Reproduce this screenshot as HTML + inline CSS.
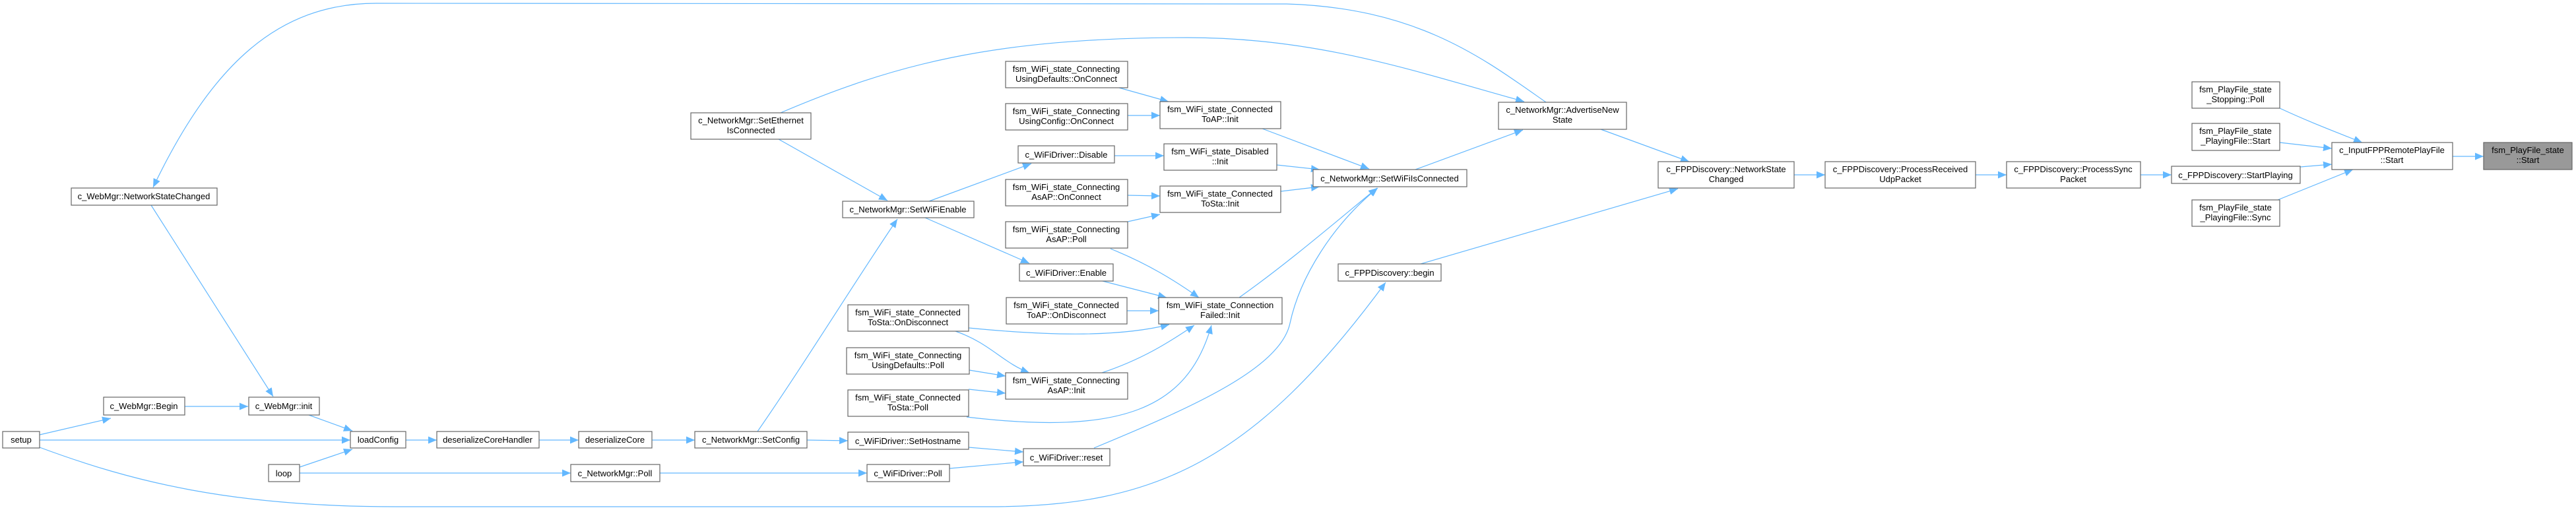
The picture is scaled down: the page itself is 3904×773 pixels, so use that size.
<!DOCTYPE html>
<html><head><meta charset="utf-8"><style>
html,body{margin:0;padding:0;background:#fff;}
svg{display:block;}
text{font-family:"Liberation Sans",Arial,sans-serif;font-size:13px;fill:#000;text-anchor:middle;}
rect{fill:#fff;stroke:#666;stroke-width:1.2;}
path.e{fill:none;stroke:#63b8ff;stroke-width:1.2;}
</style></head><body>
<svg width="3904" height="773" viewBox="0 0 3904 773" xmlns="http://www.w3.org/2000/svg">
<defs><marker id="a" markerUnits="userSpaceOnUse" markerWidth="14" markerHeight="12" refX="13" refY="5.5" orient="auto"><path d="M0,0 L13,5.5 L0,11 z" fill="#63b8ff"/></marker></defs>
<g marker-end="url(#a)">
<path class="e" d="M2343,155 C2250,90 2150,12 1950,6 L570,5 C420,5 320,100 232,284"/>
<path class="e" d="M1183,171 C1350,100 1500,57 1800,57 C2000,57 2150,110 2310,154"/>
<path class="e" d="M1180,211 L1345,304"/>
<path class="e" d="M229,311 L414,601"/>
<path class="e" d="M280,616 L376,616"/>
<path class="e" d="M468,629 L534,653"/>
<path class="e" d="M60,659 L168,634"/>
<path class="e" d="M60,667 L531,667"/>
<path class="e" d="M60,678 C200,730 350,768 600,768 L1500,768 C1750,768 1900,700 2100,428"/>
<path class="e" d="M454,708 L534,681"/>
<path class="e" d="M454,717 L865,717"/>
<path class="e" d="M615,667 L662,667"/>
<path class="e" d="M817,667 L877,667"/>
<path class="e" d="M988,667 L1053,667"/>
<path class="e" d="M1148,654 C1220,550 1300,420 1360,332"/>
<path class="e" d="M1223,667 L1285,668"/>
<path class="e" d="M1000,717 L1314,717"/>
<path class="e" d="M1468,678 L1551,685"/>
<path class="e" d="M1439,710 L1551,700"/>
<path class="e" d="M1658,679 C1800,620 1940,560 1955,490 C1970,420 2020,340 2088,285"/>
<path class="e" d="M1408,305 L1563,248"/>
<path class="e" d="M1402,330 L1560,399"/>
<path class="e" d="M1689,236 L1764,236"/>
<path class="e" d="M1696,133 L1771,154"/>
<path class="e" d="M1709,175 L1758,175"/>
<path class="e" d="M1709,296 L1758,297"/>
<path class="e" d="M1709,336 L1758,325"/>
<path class="e" d="M1683,377 C1740,400 1780,425 1817,451"/>
<path class="e" d="M1671,426 L1768,451"/>
<path class="e" d="M1708,471 L1756,471"/>
<path class="e" d="M1468,497 C1600,510 1700,510 1772,492"/>
<path class="e" d="M1448,502 C1500,520 1520,550 1560,565"/>
<path class="e" d="M1469,561 L1524,570"/>
<path class="e" d="M1468,590 L1524,596"/>
<path class="e" d="M1465,632 C1700,660 1800,620 1836,493"/>
<path class="e" d="M1670,565 C1730,545 1770,520 1810,493"/>
<path class="e" d="M1878,451 C1950,400 2020,340 2087,285"/>
<path class="e" d="M1913,195 L2075,256"/>
<path class="e" d="M1935,250 L2000,257"/>
<path class="e" d="M1941,290 L2000,283"/>
<path class="e" d="M2145,257 L2308,197"/>
<path class="e" d="M2426,196 L2560,245"/>
<path class="e" d="M2153,400 L2543,286"/>
<path class="e" d="M2719,265 L2766,265"/>
<path class="e" d="M2994,265 L3041,265"/>
<path class="e" d="M3244,265 L3291,265"/>
<path class="e" d="M3486,253 L3534,249"/>
<path class="e" d="M3455,164 C3500,185 3540,200 3580,216"/>
<path class="e" d="M3455,216 L3534,225"/>
<path class="e" d="M3452,303 L3566,257"/>
<path class="e" d="M3717,237 L3764,237"/>
</g>
<g>
<rect x="108" y="285" width="221" height="26"/><text x="218" y="302">c_WebMgr::NetworkStateChanged</text>
<rect x="157" y="602" width="123" height="27"/><text x="218" y="620">c_WebMgr::Begin</text>
<rect x="377" y="602" width="107" height="27"/><text x="430" y="620">c_WebMgr::init</text>
<rect x="4" y="654" width="56" height="25"/><text x="32" y="671">setup</text>
<rect x="531" y="654" width="84" height="25"/><text x="573" y="671">loadConfig</text>
<rect x="407" y="704" width="47" height="26"/><text x="430" y="722">loop</text>
<rect x="662" y="654" width="155" height="25"/><text x="739" y="671">deserializeCoreHandler</text>
<rect x="877" y="654" width="111" height="25"/><text x="932" y="671">deserializeCore</text>
<rect x="1053" y="654" width="170" height="25"/><text x="1138" y="671">c_NetworkMgr::SetConfig</text>
<rect x="865" y="704" width="135" height="26"/><text x="932" y="722">c_NetworkMgr::Poll</text>
<rect x="1047" y="171" width="182" height="40"/><text x="1138" y="187">c_NetworkMgr::SetEthernet</text><text x="1138" y="202">IsConnected</text>
<rect x="1277" y="305" width="199" height="25"/><text x="1376" y="322">c_NetworkMgr::SetWiFiEnable</text>
<rect x="1285" y="462" width="183" height="40"/><text x="1376" y="478">fsm_WiFi_state_Connected</text><text x="1376" y="493">ToSta::OnDisconnect</text>
<rect x="1283" y="527" width="186" height="40"/><text x="1376" y="543">fsm_WiFi_state_Connecting</text><text x="1376" y="558">UsingDefaults::Poll</text>
<rect x="1285" y="591" width="183" height="40"/><text x="1376" y="607">fsm_WiFi_state_Connected</text><text x="1376" y="622">ToSta::Poll</text>
<rect x="1285" y="655" width="183" height="26"/><text x="1376" y="673">c_WiFiDriver::SetHostname</text>
<rect x="1314" y="704" width="125" height="26"/><text x="1376" y="722">c_WiFiDriver::Poll</text>
<rect x="1524" y="93" width="185" height="40"/><text x="1616" y="109">fsm_WiFi_state_Connecting</text><text x="1616" y="124">UsingDefaults::OnConnect</text>
<rect x="1524" y="157" width="185" height="40"/><text x="1616" y="173">fsm_WiFi_state_Connecting</text><text x="1616" y="188">UsingConfig::OnConnect</text>
<rect x="1543" y="221" width="146" height="26"/><text x="1616" y="239">c_WiFiDriver::Disable</text>
<rect x="1524" y="272" width="185" height="40"/><text x="1616" y="288">fsm_WiFi_state_Connecting</text><text x="1616" y="303">AsAP::OnConnect</text>
<rect x="1524" y="336" width="185" height="40"/><text x="1616" y="352">fsm_WiFi_state_Connecting</text><text x="1616" y="367">AsAP::Poll</text>
<rect x="1545" y="400" width="142" height="26"/><text x="1616" y="418">c_WiFiDriver::Enable</text>
<rect x="1525" y="451" width="183" height="40"/><text x="1616" y="467">fsm_WiFi_state_Connected</text><text x="1616" y="482">ToAP::OnDisconnect</text>
<rect x="1524" y="565" width="185" height="40"/><text x="1616" y="581">fsm_WiFi_state_Connecting</text><text x="1616" y="596">AsAP::Init</text>
<rect x="1551" y="680" width="131" height="26"/><text x="1616" y="698">c_WiFiDriver::reset</text>
<rect x="1758" y="154" width="183" height="41"/><text x="1849" y="170">fsm_WiFi_state_Connected</text><text x="1849" y="185">ToAP::Init</text>
<rect x="1764" y="218" width="171" height="40"/><text x="1849" y="234">fsm_WiFi_state_Disabled</text><text x="1849" y="249">::Init</text>
<rect x="1758" y="282" width="183" height="40"/><text x="1849" y="298">fsm_WiFi_state_Connected</text><text x="1849" y="313">ToSta::Init</text>
<rect x="1756" y="451" width="187" height="40"/><text x="1849" y="467">fsm_WiFi_state_Connection</text><text x="1849" y="482">Failed::Init</text>
<rect x="1990" y="257" width="233" height="26"/><text x="2106" y="275">c_NetworkMgr::SetWiFiIsConnected</text>
<rect x="2028" y="400" width="156" height="26"/><text x="2106" y="418">c_FPPDiscovery::begin</text>
<rect x="2271" y="155" width="194" height="41"/><text x="2368" y="171">c_NetworkMgr::AdvertiseNew</text><text x="2368" y="186">State</text>
<rect x="2513" y="245" width="206" height="40"/><text x="2616" y="261">c_FPPDiscovery::NetworkState</text><text x="2616" y="276">Changed</text>
<rect x="2766" y="245" width="228" height="40"/><text x="2880" y="261">c_FPPDiscovery::ProcessReceived</text><text x="2880" y="276">UdpPacket</text>
<rect x="3041" y="245" width="203" height="40"/><text x="3142" y="261">c_FPPDiscovery::ProcessSync</text><text x="3142" y="276">Packet</text>
<rect x="3291" y="252" width="195" height="26"/><text x="3388" y="270">c_FPPDiscovery::StartPlaying</text>
<rect x="3322" y="124" width="133" height="40"/><text x="3388" y="140">fsm_PlayFile_state</text><text x="3388" y="155">_Stopping::Poll</text>
<rect x="3322" y="187" width="133" height="41"/><text x="3388" y="203">fsm_PlayFile_state</text><text x="3388" y="218">_PlayingFile::Start</text>
<rect x="3322" y="303" width="133" height="40"/><text x="3388" y="319">fsm_PlayFile_state</text><text x="3388" y="334">_PlayingFile::Sync</text>
<rect x="3534" y="216" width="183" height="41"/><text x="3625" y="232">c_InputFPPRemotePlayFile</text><text x="3625" y="247">::Start</text>
<rect x="3764" y="216" width="134" height="41" style="fill:#999;stroke:#666"/><text x="3831" y="232">fsm_PlayFile_state</text><text x="3831" y="247">::Start</text>
</g>
</svg>
</body></html>
